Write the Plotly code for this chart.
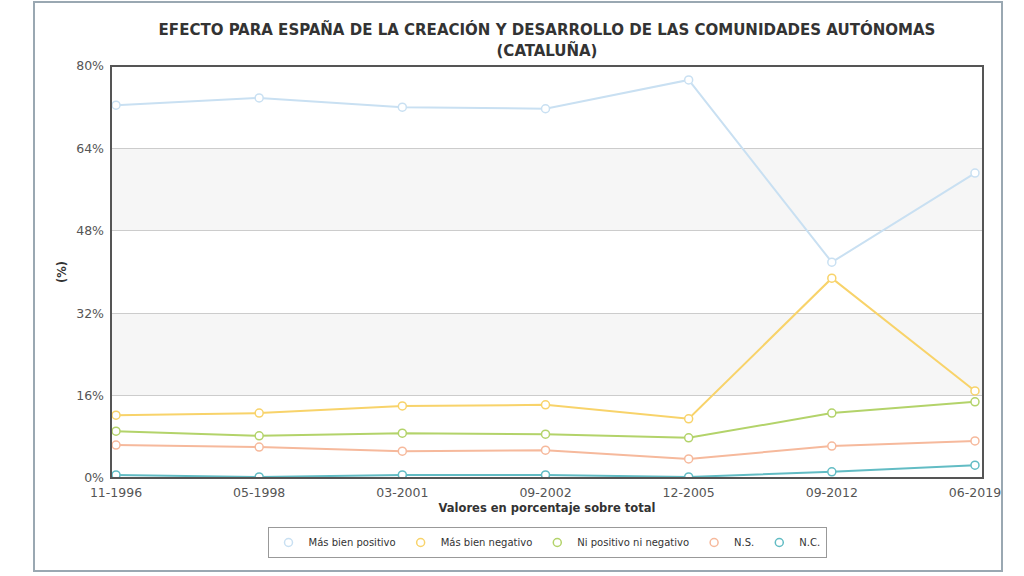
import plotly.graph_objects as go

categories = ["11-1996", "05-1998", "03-2001", "09-2002", "12-2005", "09-2012", "06-2019"]
mas_bien_positivo = [72.4, 73.8, 72.0, 71.7, 77.3, 41.9, 59.2]
mas_bien_negativo = [12.2, 12.6, 14.0, 14.2, 11.5, 38.8, 16.9]
ni_positivo_ni_negativo = [9.1, 8.2, 8.7, 8.5, 7.8, 12.6, 14.8]
ns = [6.4, 6.0, 5.2, 5.4, 3.7, 6.2, 7.2]
nc = [0.6, 0.2, 0.6, 0.6, 0.2, 1.2, 2.5]

series_names = ["Más bien positivo", "Más bien negativo", "Ni positivo ni negativo", "N.S.", "N.C."]
series_values = [mas_bien_positivo, mas_bien_negativo, ni_positivo_ni_negativo, ns, nc]
colors = ["#c9e0f2", "#f8d36a", "#b3d36a", "#f6b99c", "#62bcc4"]

y_ticks = [0, 16, 32, 48, 64, 80]
y_tick_labels = ["0%", "16%", "32%", "48%", "64%", "80%"]

FONT = "Verdana, DejaVu Sans, sans-serif"

fig = go.Figure()
for name, vals, col in zip(series_names, series_values, colors):
    fig.add_trace(go.Scatter(
        x=list(range(len(categories))), y=vals, name=name, mode="lines+markers",
        line=dict(color=col, width=2), showlegend=False,
        marker=dict(symbol="circle", size=8, color="white", line=dict(color=col, width=1.5)),
    ))
# legend entries: marker only
for name, col in zip(series_names, colors):
    fig.add_trace(go.Scatter(
        x=[None], y=[None], name=name, mode="markers",
        marker=dict(symbol="circle", size=8, color="white", line=dict(color=col, width=1.5)),
    ))

shapes = []
for y0, y1 in [(16, 32), (48, 64)]:
    shapes.append(dict(type="rect", xref="paper", yref="y", x0=0, x1=1, y0=y0, y1=y1,
                       fillcolor="#f6f6f6", line=dict(width=0), layer="below"))
shapes.append(dict(type="rect", xref="paper", yref="paper", x0=0, x1=1, y0=0, y1=1,
                   line=dict(color="#555555", width=2), layer="above"))
W, H = 1024, 576
L, R, T, B = 111, 41, 66, 98
pw, ph = W - L - R, H - T - B
def px(x):
    return (x - L) / pw
def py(y):
    return (H - B - y) / ph
shapes.append(dict(type="rect", xref="paper", yref="paper",
                   x0=px(34), x1=px(1002), y0=py(571), y1=py(2),
                   line=dict(color="#9aa8b2", width=2), layer="below"))

fig.update_layout(
    width=W, height=H,
    margin=dict(l=L, r=R, t=T, b=B),
    paper_bgcolor="white", plot_bgcolor="white",
    font=dict(family=FONT, size=12, color="#555555"),
    title=dict(text="<b>EFECTO PARA ESPAÑA DE LA CREACIÓN Y DESARROLLO DE LAS COMUNIDADES AUTÓNOMAS<br>(CATALUÑA)</b>",
               xref="paper", x=0.5, xanchor="center", y=0.94, yanchor="top",
               font=dict(family="DejaVu Sans Condensed, DejaVu Sans, sans-serif", size=16.7, color="#333333")),
    xaxis=dict(tickmode="array", tickvals=list(range(len(categories))), ticktext=categories,
               range=[-0.035, 6.056], showgrid=False, zeroline=False, showline=False,
               ticks="", ticklabelstandoff=5, tickfont=dict(size=12.5, color="#555555"),
               title=dict(text="<b>Valores en porcentaje sobre total</b>", standoff=5,
                          font=dict(size=11.5, color="#333333"))),
    yaxis=dict(range=[0, 80], tickvals=y_ticks, ticktext=y_tick_labels,
               showgrid=True, gridcolor="#cccccc", gridwidth=1, zeroline=False, showline=False,
               ticks="", ticklabelstandoff=6, tickfont=dict(size=12.5, color="#555555"),
               title=dict(text="<b>(%)</b>", standoff=7, font=dict(size=11.5, color="#333333"))),
    legend=dict(orientation="h", x=0.5, xanchor="center", y=py(527), yanchor="top",
                bgcolor="white", bordercolor="#999999", borderwidth=1,
                font=dict(size=10, color="#333333"), itemwidth=30, traceorder="normal"),
    shapes=shapes,
)

fig.write_html("out.html", config={"displayModeBar": False},
               post_script="document.body.style.margin='0';document.body.style.padding='0';")
